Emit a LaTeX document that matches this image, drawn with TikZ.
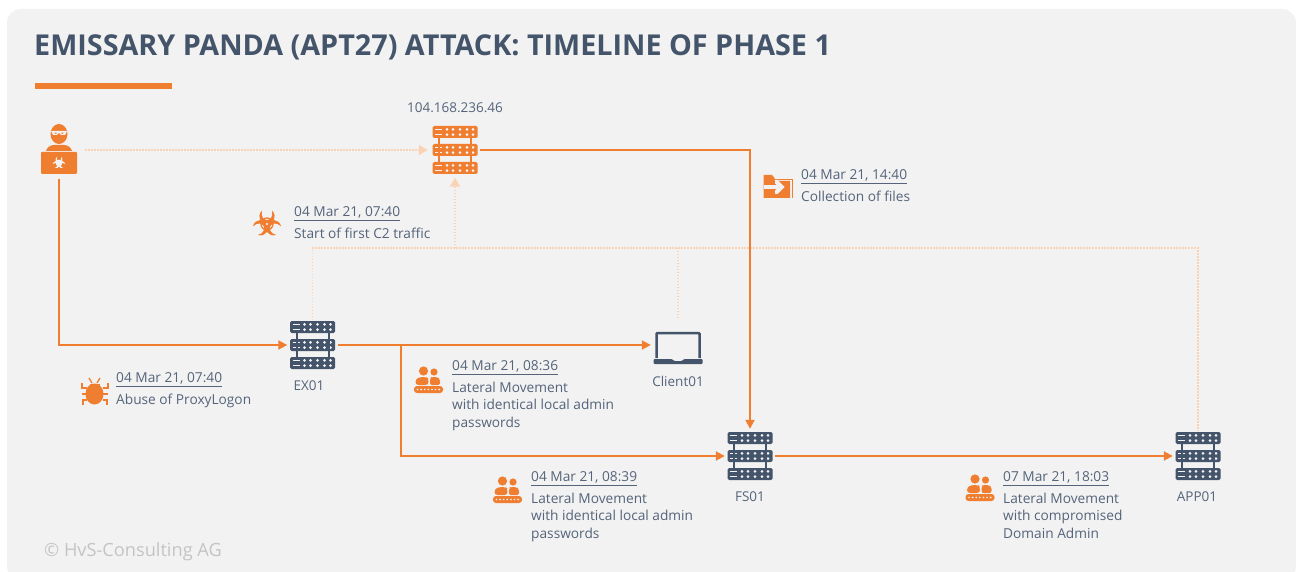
\documentclass[tikz,border=0pt]{standalone}
\usepackage{fontspec}
\setmainfont{Open Sans}
\usetikzlibrary{arrows.meta}
\definecolor{hvsbg}{HTML}{F2F2F2}
\definecolor{hvsorange}{HTML}{F07E30}
\definecolor{hvslight}{HTML}{FAD2B4}
\definecolor{hvsnavy}{HTML}{44546A}
\definecolor{hvstext}{HTML}{55647A}
\definecolor{hvsgrey}{HTML}{C4C4C4}
\tikzset{
    flow/.style={draw=hvsorange,line width=1.9pt,-{Triangle[length=9pt,width=9pt]},shorten >=2.5pt,shorten <=2.5pt},
    c2link/.style={draw=hvslight,line width=1.3pt,dash pattern=on 1.4pt off 1.6pt},
    c2arrow/.style={c2link,-{Triangle[length=9pt,width=10pt,fill=hvslight]}},
    srvbox/.style={inner sep=0pt,minimum width=45pt,minimum height=49pt},
    iconbox/.style={inner sep=0pt,minimum width=#1,minimum height=30pt},
    lbl/.style={text=hvstext,font=\fontsize{13.5}{17}\selectfont,inner sep=0pt},
    event/.style={text=hvstext,font=\fontsize{13.7}{17.6}\selectfont,inner sep=0pt,align=left,anchor=north west},
    pics/server/.style={code={
        \foreach \row in {-18,0,18}{
            \fill[#1,rounded corners=1.5pt] (-22.5,\row-6) rectangle (22.5,\row+6);
            \fill[hvsbg] (-20,\row-3.4) rectangle (-13,\row-1.6);
            \fill[hvsbg] (-20,\row+1.6) rectangle (-13,\row+3.4);
            \foreach \col in {-8,-2,5,12,18}{
                \fill[hvsbg] (\col,\row-2.6) circle (1.5);
                \fill[hvsbg] (\col,\row+2.6) circle (1.5);
            }
        }
        \foreach \col in {-16,16}{
            \fill[#1] (\col-1,-12) rectangle (\col+1,12);
        }
    }},
    pics/bio/.style={code={
        \foreach \ang in {0,120,240}{
            \fill[#1,rotate=\ang] (-5,-13.5) .. controls (-11,-7) and (-6,0) .. (0,0)
                .. controls (6,0) and (11,-7) .. (5,-13.5)
                .. controls (6.5,-7) and (3,-4) .. (0,-4)
                .. controls (-3,-4) and (-6.5,-7) .. (-5,-13.5) -- cycle;
        }
        \draw[#1,line width=1.3pt] (0,0) circle (6);
        \fill[#1] (0,0) circle (3);
        \fill[hvsbg] (0,0) circle (1.2);
    }},
    pics/team/.style={code={
        \fill[hvsorange] (-5,-9) circle (4.6);
        \fill[hvsorange] (5.5,-8) circle (3.6);
        \fill[hvsorange,rounded corners=3pt] (-13,5) -- (-13,-1) -- (-8,-3) -- (-2,-3) -- (0,-1) -- (0,5) -- cycle;
        \fill[hvsorange,rounded corners=2pt] (1.5,5) -- (1.5,-2) -- (3,-3) -- (9,-3) -- (11.5,-1) -- (11.5,5) -- cycle;
        \fill[hvsorange,rounded corners=3pt] (-14.5,6) rectangle (14.5,13);
        \foreach \col in {-11,-7.4,...,11.6}{
            \fill[hvsbg] (\col,9.5) circle (0.9);
        }
    }},
    pics/bug/.style={code={
        \fill[hvsorange] (0,3) ellipse (9 and 10.5);
        \fill[hvsorange] (-5,-7) rectangle (5,-4);
        \draw[hvsorange,line width=1.3pt] (-5.5,-13) -- (-2.5,-8);
        \draw[hvsorange,line width=1.3pt] (5.5,-13) -- (2.5,-8);
        \draw[hvsorange,line width=2pt] (-8,-3) -- (-13,-3) -- (-13,-8);
        \draw[hvsorange,line width=2pt] (8,-3) -- (13,-3) -- (13,-8);
        \draw[hvsorange,line width=2pt] (-8,3) -- (-13,3);
        \draw[hvsorange,line width=2pt] (8,3) -- (13,3);
        \draw[hvsorange,line width=2pt] (-8,9) -- (-12,9) -- (-12,14);
        \draw[hvsorange,line width=2pt] (8,9) -- (12,9) -- (12,14);
    }},
    pics/folder/.style={code={
        \draw[hvsorange,line width=0.8pt] (-7,-8) -- (14.5,-8) -- (14.5,11);
        \fill[hvsorange] (-14.5,-12) -- (-6,-12) -- (-3.5,-9) -- (-3.5,-6) -- (12,-6) -- (12,11) -- (-14.5,11) -- cycle;
        \fill[hvsbg] (-14.5,-2) rectangle (0,2);
        \fill[hvsbg] (-3,-7) -- (-0.5,-7) -- (6.5,0) -- (-0.5,7) -- (-3,7) -- (-3,3.5) -- (0.5,0) -- (-3,-3.5) -- cycle;
    }},
    pics/laptop/.style={code={
        \draw[hvsnavy,line width=2.5pt,rounded corners=1pt] (-21.5,10) -- (-21.5,-15) -- (21.5,-15) -- (21.5,10);
        \fill[hvsnavy,rounded corners=1pt] (-24.5,11) -- (-6,11) -- (-4,13) -- (4,13) -- (6,11) -- (24.5,11) -- (24.5,16) -- (-24.5,16) -- cycle;
    }},
    pics/hacker/.style={code={
        \fill[hvsorange] (0,-16) ellipse (8.5 and 10);
        \fill[hvsbg] (-8,-19) -- (8,-19) -- (6,-15) -- (2,-15) -- (0,-17) -- (-2,-15) -- (-6,-15) -- cycle;
        \fill[hvsorange] (-4.5,-17.5) -- (-1.5,-17) -- (-4,-16) -- cycle;
        \fill[hvsorange] (4.5,-17.5) -- (1.5,-17) -- (4,-16) -- cycle;
        \fill[hvsorange] (-13,1) .. controls (-12,-3) and (-8,-5) .. (-5,-5) -- (5,-5) .. controls (8,-5) and (12,-3) .. (13,1) -- cycle;
        \fill[hvsorange,rounded corners=1pt] (-18,2) rectangle (18,24);
        \pic[scale=0.45] at (0,13) {bio=hvsbg};
    }},
}
\begin{document}
\begin{tikzpicture}[x=1pt,y=-1pt]
    \useasboundingbox (0,0) rectangle (1296,572);
    \fill[white] (0,0) rectangle (1296,572);
    \begin{scope}
        \clip (0,0) rectangle (1296,572);
        \fill[hvsbg,rounded corners=14pt] (7,9) rectangle (1296,580);
    \end{scope}
    \node[anchor=west,inner sep=0pt,text=hvsnavy,font=\fontsize{28.75}{34}\selectfont\bfseries] (title) at (34,47) {EMISSARY PANDA (APT27) ATTACK: TIMELINE OF PHASE 1};
    \fill[hvsorange] (35,83) rectangle (172,89);
    \node[anchor=west,inner sep=0pt,text=hvsgrey,font=\fontsize{18.2}{21}\selectfont] (copyright) at (44,551.5) {© HvS-Consulting AG};

    % hosts
    \node[iconbox=36pt,minimum height=52pt] (attacker) at (59,150) {};
    \pic at (attacker) {hacker=hvsorange};
    \node[srvbox] (C2) at (455,150) {};
    \pic at (C2) {server=hvsorange};
    \node[srvbox] (EX01) at (312.5,345) {};
    \pic at (EX01) {server=hvsnavy};
    \node[iconbox=49pt,minimum height=32pt] (Client01) at (678,348) {};
    \pic at (Client01) {laptop};
    \node[srvbox] (FS01) at (750,456) {};
    \pic at (FS01) {server=hvsnavy};
    \node[srvbox] (APP01) at (1198,456) {};
    \pic at (APP01) {server=hvsnavy};

    \node[lbl] (C2lbl) at (455,108) {104.168.236.46};
    \node[lbl] (EX01lbl) at (309,386) {EX01};
    \node[lbl] (Client01lbl) at (678,381) {Client01};
    \node[lbl] (FS01lbl) at (750,497) {FS01};
    \node[lbl] (APP01lbl) at (1197,497) {APP01};

    % C2 traffic
    \coordinate (bus) at (455,248);
    \draw[c2link] (EX01.north) -- (EX01.north |- bus) -- (bus -| APP01.north) -- (APP01.north);
    \draw[c2link,shorten >=12pt] (bus -| Client01.north) -- (Client01.north);
    \draw[c2arrow,shorten >=3pt] (bus) -- (C2.south);
    \draw[c2arrow,shorten <=8pt,shorten >=4.5pt] (attacker.east) -- (C2.west);

    % attack path
    \coordinate (branch) at (401,345);
    \draw[flow] (attacker.south) |- (EX01.west);
    \draw[flow] (EX01.east) -- (EX01.east -| Client01.west);
    \draw[flow,shorten <=0pt] (branch) |- (FS01.west);
    \draw[flow] (C2.east) -| (FS01.north);
    \draw[flow] (FS01.east) -- (APP01.west);

    % events
    \node[iconbox=30pt] (bioicon) at (267,224) {};
    \pic at (bioicon) {bio=hvsorange};
    \node[event] (evC2) at (294,206.5) {\underline{04 Mar 21, 07:40}\\[4pt]Start of first C2 traffic};
    \node[iconbox=30pt] (filesicon) at (778,187) {};
    \pic at (filesicon) {folder};
    \node[event] (evFiles) at (801,169.5) {\underline{04 Mar 21, 14:40}\\[4pt]Collection of files};
    \node[iconbox=30pt] (bugicon) at (94.5,391) {};
    \pic at (bugicon) {bug};
    \node[event] (evBug) at (116,372.5) {\underline{04 Mar 21, 07:40}\\[4pt]Abuse of ProxyLogon};
    \node[iconbox=30pt] (teamA) at (428.5,380) {};
    \pic at (teamA) {team};
    \node[event] (evClient) at (452,360.5) {\underline{04 Mar 21, 08:36}\\[4pt]Lateral Movement\\with identical local admin\\passwords};
    \node[iconbox=30pt] (teamB) at (507.5,490) {};
    \pic at (teamB) {team};
    \node[event] (evFS) at (531,471.5) {\underline{04 Mar 21, 08:39}\\[4pt]Lateral Movement\\with identical local admin\\passwords};
    \node[iconbox=30pt] (teamC) at (980,488) {};
    \pic at (teamC) {team};
    \node[event] (evApp) at (1003,471.5) {\underline{07 Mar 21, 18:03}\\[4pt]Lateral Movement\\with compromised\\Domain Admin};
\end{tikzpicture}
\end{document}
